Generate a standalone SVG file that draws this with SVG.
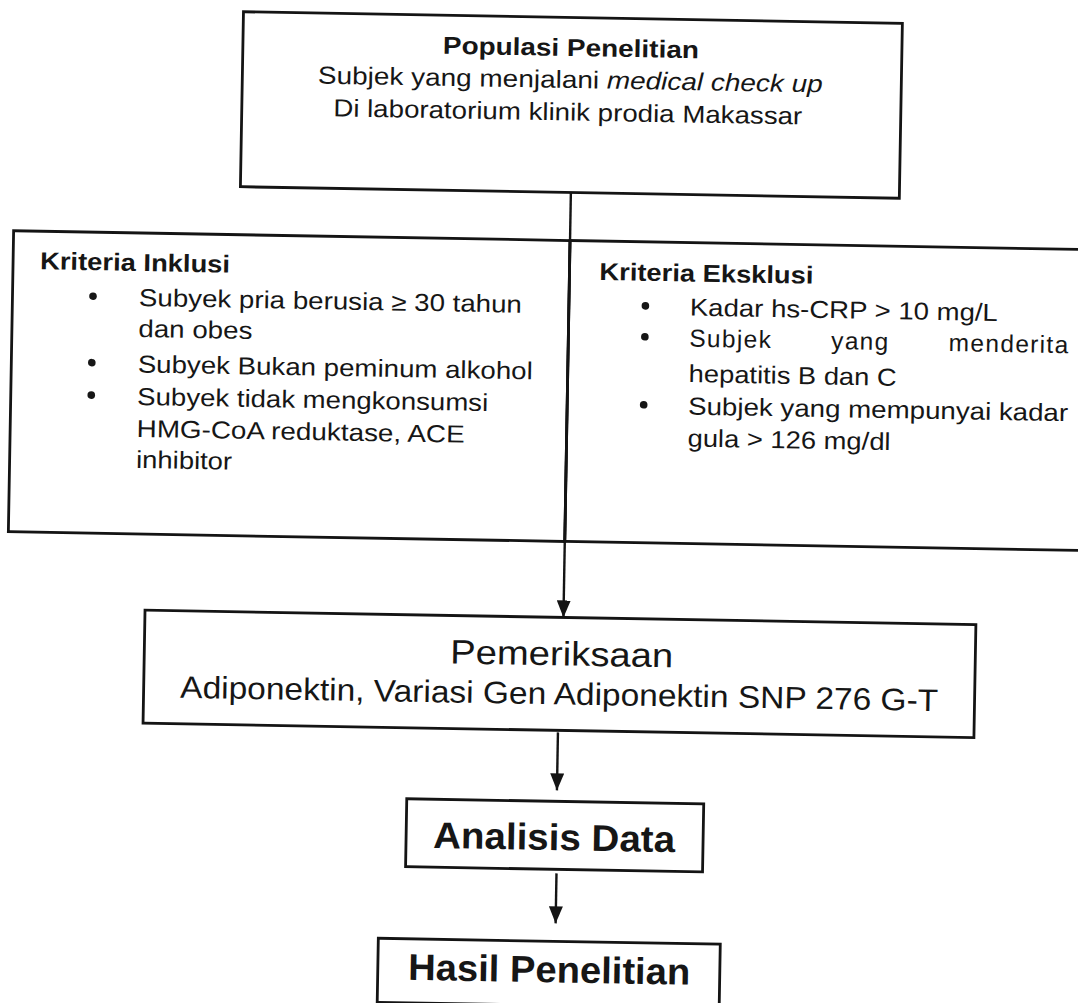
<svg xmlns="http://www.w3.org/2000/svg" width="1078" height="1003" viewBox="0 0 1078 1003">
<style>
  .box{fill:none;stroke:#141414;stroke-width:2.8}
  .t{font-family:"Liberation Sans",Arial,sans-serif;fill:#161616}
  .b{font-weight:bold}
  .body{font-size:24.5px}
  .c{text-anchor:middle}
  .conn{stroke:#141414;stroke-width:2.4;fill:none}
</style>
<defs>
  <marker id="arrdown" markerUnits="userSpaceOnUse" markerWidth="14" markerHeight="17" refX="7" refY="17" orient="0" viewBox="0 0 14 17">
    <path d="M0,0 L14,0 L7,17 Z" fill="#141414"/>
  </marker>
  <circle id="dot" cx="0" cy="0" r="3.8" fill="#161616"/>
</defs>
<rect x="0" y="0" width="1078" height="1003" fill="#ffffff"/>
<g transform="rotate(1 539 500)">
  <g id="populasi">
    <rect class="box" x="235" y="17" width="659" height="175"/>
    <text class="t b body c" x="563" y="55.5" textLength="256" lengthAdjust="spacingAndGlyphs">Populasi Penelitian</text>
    <text class="t body c" x="563" y="87.5" textLength="505" lengthAdjust="spacingAndGlyphs">Subjek yang menjalani <tspan font-style="italic">medical check up</tspan></text>
    <text class="t body c" x="561" y="120" textLength="469" lengthAdjust="spacingAndGlyphs">Di laboratorium klinik prodia Makassar</text>
  </g>
  <g id="inklusi">
    <rect class="box" x="9" y="240" width="556.5" height="301"/>
    <text class="t b body" x="36" y="278" textLength="190" lengthAdjust="spacingAndGlyphs">Kriteria Inklusi</text>
    <use href="#dot" x="89.5" y="304"/>
    <text class="t body" x="135.5" y="313" textLength="383" lengthAdjust="spacingAndGlyphs">Subyek pria berusia ≥ 30 tahun</text>
    <text class="t body" x="135.5" y="344" textLength="114" lengthAdjust="spacingAndGlyphs">dan obes</text>
    <use href="#dot" x="89.5" y="370.5"/>
    <text class="t body" x="135.5" y="379.5" textLength="395" lengthAdjust="spacingAndGlyphs">Subyek Bukan peminum alkohol</text>
    <use href="#dot" x="89.5" y="403"/>
    <text class="t body" x="135.5" y="412" textLength="351" lengthAdjust="spacingAndGlyphs">Subyek tidak mengkonsumsi</text>
    <text class="t body" x="135.5" y="444" textLength="328" lengthAdjust="spacingAndGlyphs">HMG-CoA reduktase, ACE</text>
    <text class="t body" x="135.5" y="475" textLength="96" lengthAdjust="spacingAndGlyphs">inhibitor</text>
  </g>
  <g id="eksklusi">
    <rect class="box" x="565.5" y="240" width="560" height="301"/>
    <text class="t b body" x="595.5" y="279" textLength="214" lengthAdjust="spacingAndGlyphs">Kriteria Eksklusi</text>
    <use href="#dot" x="642" y="304"/>
    <text class="t body" x="686.5" y="313" textLength="308" lengthAdjust="spacingAndGlyphs">Kadar hs-CRP &gt; 10 mg/L</text>
    <use href="#dot" x="642" y="335"/>
    <text class="t body" x="686.5" y="344" textLength="379" lengthAdjust="spacing">Subjek<tspan dx="59">yang</tspan><tspan dx="59">menderita</tspan></text>
    <text class="t body" x="686.5" y="379.5" textLength="208" lengthAdjust="spacingAndGlyphs">hepatitis B dan C</text>
    <use href="#dot" x="642" y="403"/>
    <text class="t body" x="686.5" y="412" textLength="380" lengthAdjust="spacingAndGlyphs">Subjek yang mempunyai kadar</text>
    <text class="t body" x="686.5" y="444" textLength="203" lengthAdjust="spacingAndGlyphs">gula &gt; 126 mg/dl</text>
  </g>
  <g id="pemeriksaan">
    <rect class="box" x="147" y="617" width="831" height="113"/>
    <text class="t c" x="564.4" y="665" font-size="34" textLength="223" lengthAdjust="spacingAndGlyphs">Pemeriksaan</text>
    <text class="t c" x="562.6" y="704" font-size="31" textLength="758" lengthAdjust="spacingAndGlyphs">Adiponektin, Variasi Gen Adiponektin SNP 276 G-T</text>
  </g>
  <g id="analisis">
    <rect class="box" x="412" y="801" width="297" height="68"/>
    <text class="t b c" x="560" y="849.7" font-size="37" textLength="242" lengthAdjust="spacingAndGlyphs">Analisis Data</text>
  </g>
  <g id="hasil">
    <rect class="box" x="386" y="941" width="342" height="64"/>
    <text class="t b c" x="557.4" y="982" font-size="37" textLength="282" lengthAdjust="spacingAndGlyphs">Hasil Penelitian</text>
  </g>
  <g id="connectors">
    <line class="conn" x1="565.5" y1="192" x2="565.5" y2="617" marker-end="url(#arrdown)"/>
    <line class="conn" x1="562" y1="732" x2="562" y2="790" marker-end="url(#arrdown)"/>
    <line class="conn" x1="563" y1="873" x2="563" y2="923" marker-end="url(#arrdown)"/>
  </g>
</g>
</svg>
